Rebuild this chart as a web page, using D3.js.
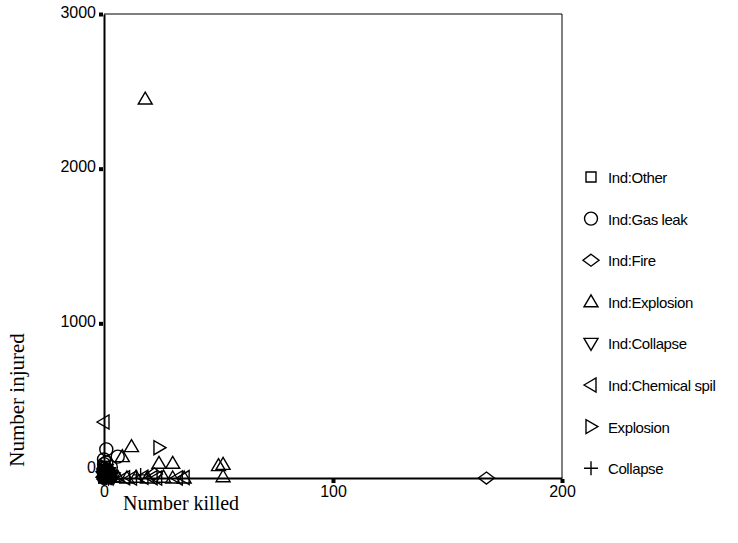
<!DOCTYPE html>
<html>
<head>
<meta charset="utf-8">
<script src="https://cdn.jsdelivr.net/npm/d3@7"></script>
<style>
  body { margin: 0; background: #fff; }
  text { font-family: "Liberation Sans", Arial, sans-serif; }
</style>
</head>
<body>
<svg width="738" height="543"></svg>
<script>
// categories and their marker shapes
let categories = ["Ind:Other", "Ind:Gas leak", "Ind:Fire", "Ind:Explosion", "Ind:Collapse", "Ind:Chemical spil", "Explosion", "Collapse"];
let shapes = ["square", "circle", "diamond", "up", "down", "left", "right", "plus"];

// [killed, injured] per category
let indOther = [[0,0],[0,10],[1,30],[2,5],[0,50],[1,0],[0,75],[3,12],[1,45],[2,25],[0,20],[1,15]];
let indGasLeak = [[1,185],[6,138],[0,120],[0,60],[1,20],[0,0],[2,40],[0,90],[1,100],[3,70],[0,35],[1,5]];
let indFire = [[167,0],[22,26],[0,5],[1,15],[3,0],[2,8],[0,40]];
let indExplosion = [[18,2450],[12,203],[8,138],[24,95],[30,95],[50,80],[52,88],[52,8],[6,5],[10,0],[14,5],[19,0],[26,5],[30,0],[35,0],[1,60],[3,30],[2,15],[4,10],[0,25],[1,2],[2,45]];
let indCollapse = [[0,0],[1,10],[0,30],[2,0],[4,0],[0,20],[1,55],[3,5],[2,35],[0,8],[1,25]];
let indChemical = [[0,362],[12,0],[17,5],[23,0],[32,0],[35,3],[9,2],[21,2],[1,5],[2,18],[0,12]];
let explosion = [[24,196],[2,50],[1,70],[0,15],[1,35]];
let collapse = [[16,20],[0,40],[1,0],[3,20],[2,10]];

let seriesData = [indOther, indGasLeak, indFire, indExplosion, indCollapse, indChemical, explosion, collapse];

let xTicks = [0, 100, 200];
let yTicks = [0, 1000, 2000, 3000];

let margin = {left: 104, right: 562, top: 14, bottom: 478};

let svg = d3.select("svg");

let x = d3.scaleLinear().domain([0, 200]).range([margin.left, margin.right]);
let y = d3.scaleLinear().domain([0, 3000]).range([margin.bottom, margin.top]);

function shapePath(s) {
  if (s == "square") return "M-5,-5H5V5H-5Z";
  if (s == "circle") return "M6.5,0A6.5,6.5 0 1,1 -6.5,0A6.5,6.5 0 1,1 6.5,0Z";
  if (s == "diamond") return "M0,-6L8,0L0,6L-8,0Z";
  if (s == "up") return "M0,-7L7,5L-7,5Z";
  if (s == "down") return "M0,7L7,-5L-7,-5Z";
  if (s == "left") return "M-7,0L5,-7L5,7Z";
  if (s == "right") return "M7,0L-5,-7L-5,7Z";
  return "M-7,0H7M0,-7V7";
}

// frame: thin top/right, thick left/bottom
svg.append("line").attr("x1", margin.left).attr("x2", margin.right).attr("y1", margin.top).attr("y2", margin.top)
  .attr("stroke", "black").attr("stroke-width", 1);
svg.append("line").attr("x1", margin.right).attr("x2", margin.right).attr("y1", margin.top).attr("y2", margin.bottom)
  .attr("stroke", "black").attr("stroke-width", 1);

let yAxis = svg.append("g")
  .attr("transform", `translate(${margin.left}, 0)`)
  .call(d3.axisLeft(y).tickValues(yTicks).tickSize(0).tickPadding(8).tickFormat(d3.format("d")));
let xAxis = svg.append("g")
  .attr("transform", `translate(0, ${margin.bottom})`)
  .call(d3.axisBottom(x).tickValues(xTicks).tickSize(0).tickPadding(8).tickFormat(d3.format("d")));

[yAxis, xAxis].forEach(function(a){
  a.select(".domain").attr("stroke", "black").attr("stroke-width", 2);
  a.selectAll("text").attr("font-size", 16).attr("fill", "black")
    .style("font-family", "'Liberation Sans', Arial, sans-serif");
});
yAxis.selectAll(".tick text").attr("dy", "0.2em");
// the 0 label sits a little above its tick
yAxis.selectAll(".tick").filter(d => d == 0).select("text").attr("dy", "-0.35em");

// little square tick marks
yAxis.selectAll(".tick").append("rect").attr("x", -5).attr("y", -2).attr("width", 4).attr("height", 4).attr("fill", "black");
xAxis.selectAll(".tick").append("rect").attr("x", -2).attr("y", 1).attr("width", 4).attr("height", 4).attr("fill", "black");

// points, drawn over the axes
seriesData.forEach(function(pts, i){
  svg.append("g")
    .selectAll("path")
    .data(pts)
    .join("path")
    .attr("d", shapePath(shapes[i]))
    .attr("transform", d => `translate(${x(d[0])}, ${y(d[1])})`)
    .attr("fill", "none")
    .attr("stroke", "black")
    .attr("stroke-width", 1.4);
});

// axis titles
svg.append("text")
  .attr("x", 123).attr("y", 510)
  .style("font-family", "'Liberation Serif', serif")
  .attr("font-size", 20)
  .text("Number killed");

svg.append("text")
  .attr("transform", "translate(24, 400) rotate(-90)")
  .attr("text-anchor", "middle")
  .style("font-family", "'Liberation Serif', serif")
  .attr("font-size", 21)
  .text("Number injured");

// legend
let legend = svg.append("g")
  .selectAll("g")
  .data(categories)
  .join("g")
  .attr("transform", (d, i) => `translate(591, ${177 + i * 41.6})`);

legend.append("path")
  .attr("d", (d, i) => shapePath(shapes[i]))
  .attr("fill", "none")
  .attr("stroke", "black")
  .attr("stroke-width", 1.4);

legend.append("text")
  .attr("x", 17)
  .attr("y", 6)
  .attr("font-size", 15)
  .attr("letter-spacing", -0.4)
  .text(d => d);
</script>
</body>
</html>
